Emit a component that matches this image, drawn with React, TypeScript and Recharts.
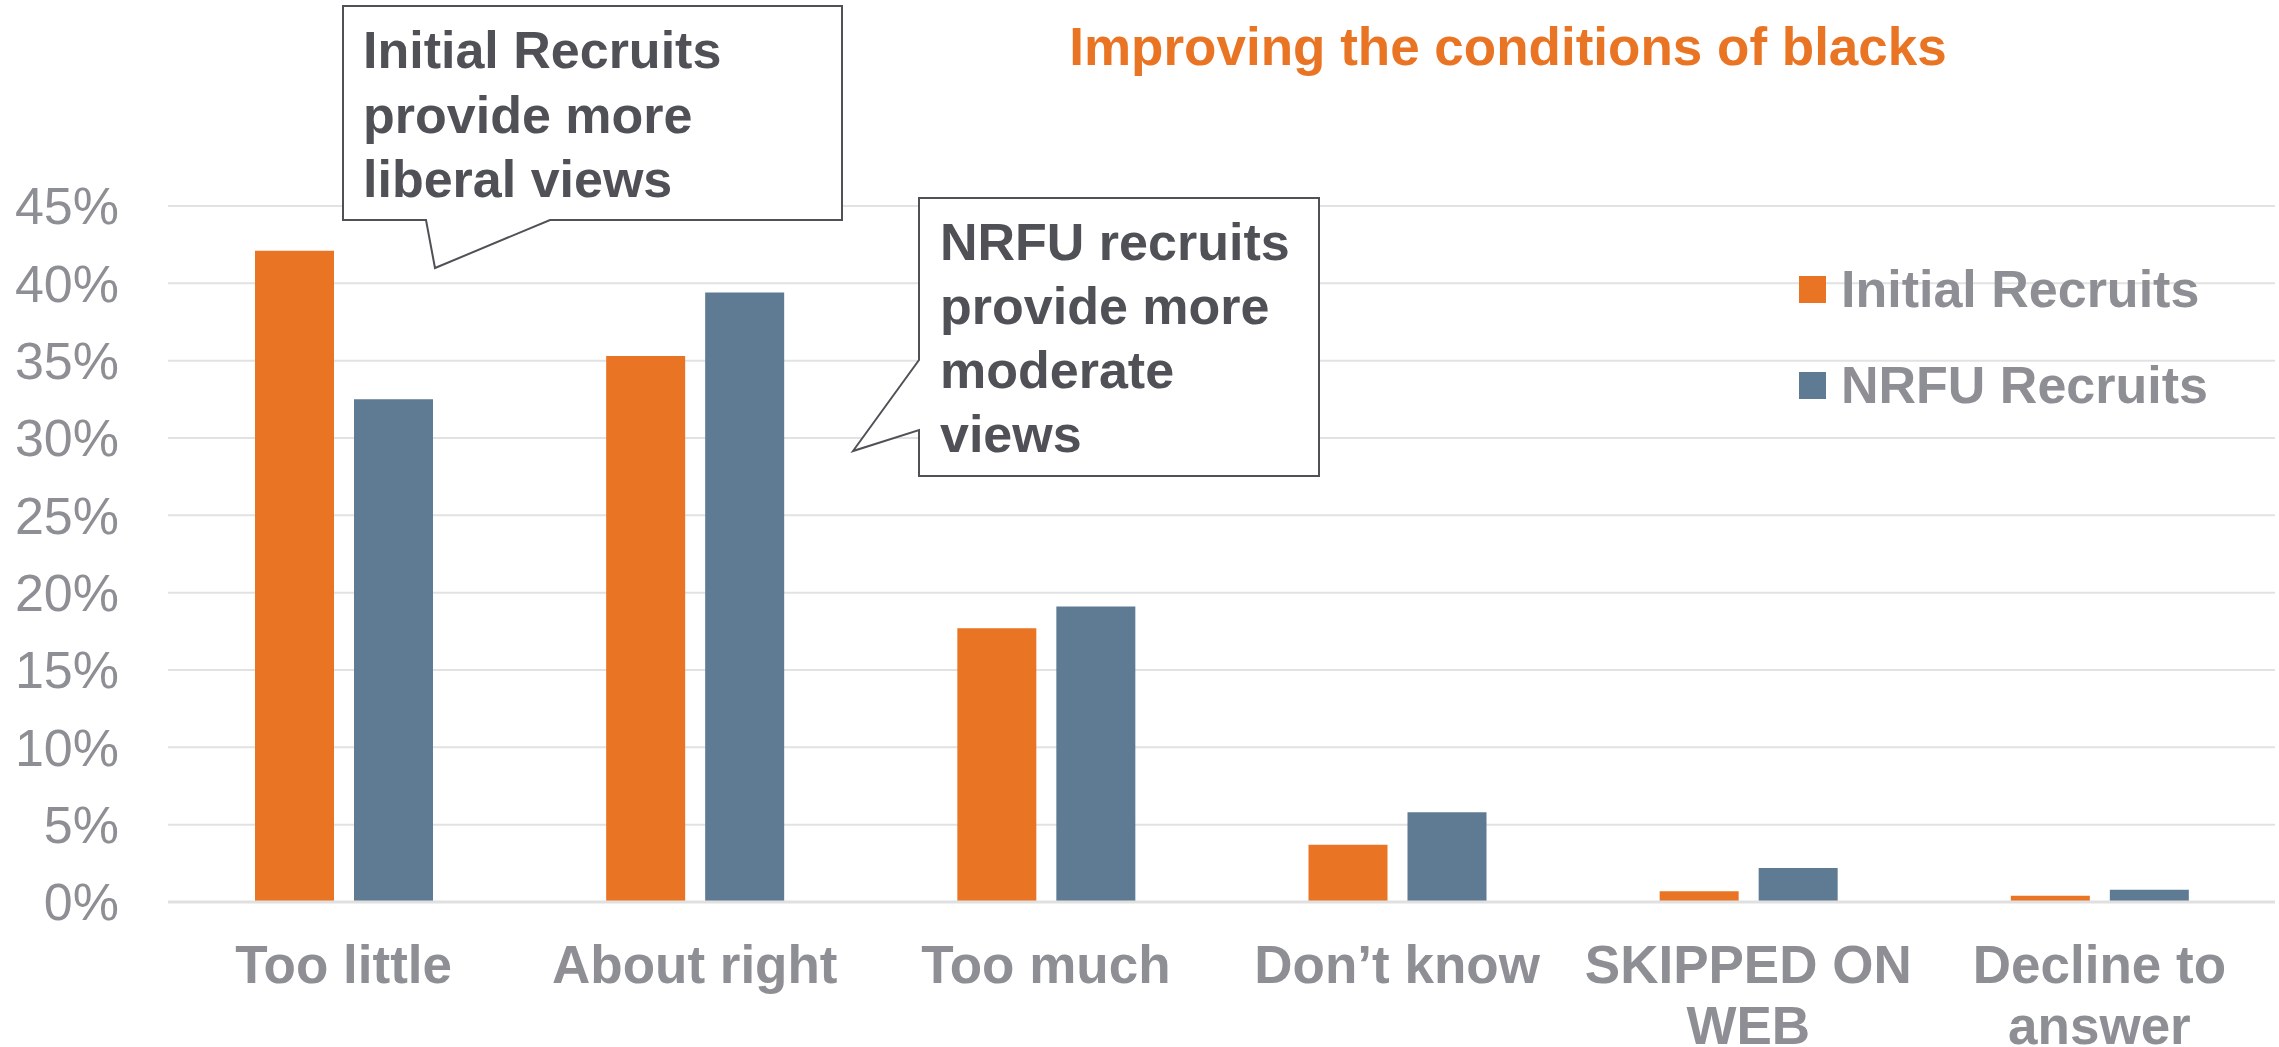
import { BarChart, Bar, XAxis, YAxis, CartesianGrid, Legend } from "recharts";

const FONT = '"Liberation Sans", Arial, sans-serif';

// "\n" marks where the reference breaks a category label
const categories = [
  "Too little",
  "About right",
  "Too much",
  "Don’t know",
  "SKIPPED ON\nWEB",
  "Decline to\nanswer",
];
const initialRecruits = [42.1, 35.3, 17.7, 3.7, 0.7, 0.4];
const nrfuRecruits = [32.5, 39.4, 19.1, 5.8, 2.2, 0.8];
const yTicks = [0, 5, 10, 15, 20, 25, 30, 35, 40, 45];

const title = "Improving the conditions of blacks";
const liberalNote = ["Initial Recruits", "provide more", "liberal views"];
const moderateNote = ["NRFU recruits", "provide more", "moderate", "views"];

const rows = categories.map((name, i) => ({
  name,
  initial: initialRecruits[i],
  nrfu: nrfuRecruits[i],
}));

const ORANGE = "#E97524";
const BLUE = "#5E7B93";
const GRAY = "#8E8F94";
const DARK = "#505157";

const CategoryTick = ({ x, y, payload }: any) => {
  const lines = String(payload.value).split("\n");
  return (
    <g transform={`translate(${x},${y})`}>
      <text
        textAnchor="middle"
        fill={GRAY}
        fontSize={53}
        fontWeight={700}
        fontFamily={FONT}
      >
        {lines.map((line, i) => (
          <tspan key={line} x={0} dy={i === 0 ? 81 : 61}>
            {line}
          </tspan>
        ))}
      </text>
    </g>
  );
};

const renderLegend = ({ payload }: any) => (
  <div>
    {payload.map((entry: any) => (
      <div
        key={entry.value}
        style={{ display: "flex", alignItems: "center", height: 96 }}
      >
        <span
          style={{
            width: 27,
            height: 27,
            background: entry.color,
            marginRight: 15,
            display: "inline-block",
          }}
        />
        <span
          style={{
            fontSize: 52,
            fontWeight: 700,
            color: GRAY,
            fontFamily: FONT,
            whiteSpace: "nowrap",
          }}
        >
          {entry.value}
        </span>
      </div>
    ))}
  </div>
);

const Callouts = () => (
  <svg
    width={2279}
    height={1047}
    style={{ position: "absolute", left: 0, top: 0, pointerEvents: "none" }}
  >
    <text
      x={1508}
      y={65}
      textAnchor="middle"
      fill={ORANGE}
      fontSize={53}
      fontWeight={700}
      fontFamily={FONT}
    >
      {title}
    </text>

    <path
      d="M343,6 L842,6 L842,220 L550,220 L435,268 L426,220 L343,220 Z"
      fill="#fff"
      stroke={DARK}
      strokeWidth={2}
    />
    {liberalNote.map((line, i) => (
      <text
        key={line}
        x={363}
        y={68 + i * 64.5}
        fill={DARK}
        fontSize={52}
        fontWeight={700}
        fontFamily={FONT}
      >
        {line}
      </text>
    ))}

    <path
      d="M919,198 L1319,198 L1319,476 L919,476 L919,430 L853,451 L919,360 Z"
      fill="#fff"
      stroke={DARK}
      strokeWidth={2}
    />
    {moderateNote.map((line, i) => (
      <text
        key={line}
        x={940}
        y={260 + i * 64}
        fill={DARK}
        fontSize={52}
        fontWeight={700}
        fontFamily={FONT}
      >
        {line}
      </text>
    ))}
  </svg>
);

export default function App() {
  return (
    <div
      style={{
        position: "absolute",
        left: 0,
        top: 0,
        width: 2279,
        height: 1047,
        background: "#fff",
      }}
    >
      <BarChart
        width={2279}
        height={1047}
        data={rows}
        margin={{ top: 206, right: 4, bottom: 85, left: 0 }}
        barSize={79}
        barGap={20}
      >
        <CartesianGrid vertical={false} stroke="#E2E2E2" strokeWidth={2} />
        <XAxis
          dataKey="name"
          height={60}
          interval={0}
          tickSize={0}
          tickMargin={0}
          axisLine={{ stroke: "#E0E0E0", strokeWidth: 3 }}
          tickLine={false}
          tick={<CategoryTick />}
        />
        <YAxis
          width={168}
          domain={[0, 45]}
          ticks={yTicks}
          tickFormatter={(v: number) => `${v}%`}
          axisLine={false}
          tickLine={false}
          tickSize={0}
          tickMargin={49}
          tick={{ fill: GRAY, fontSize: 52, fontFamily: FONT }}
        />
        <Legend
          layout="vertical"
          align="center"
          verticalAlign="middle"
          wrapperStyle={{ top: 241, left: 1799, width: 480 }}
          content={renderLegend}
        />
        <Bar
          dataKey="initial"
          name="Initial Recruits"
          fill={ORANGE}
          isAnimationActive={false}
        />
        <Bar
          dataKey="nrfu"
          name="NRFU Recruits"
          fill={BLUE}
          isAnimationActive={false}
        />
      </BarChart>
      <Callouts />
    </div>
  );
}
